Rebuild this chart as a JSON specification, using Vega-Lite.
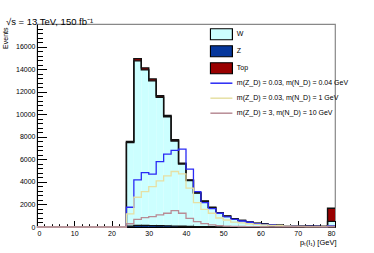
{
  "$schema": "https://vega.github.io/schema/vega-lite/v6.json",
  "width": 298,
  "height": 203,
  "autosize": {"type": "none"},
  "padding": {"left": 37, "top": 24, "right": 39, "bottom": 26},
  "background": "white",
  "config": {
    "font": "Liberation Sans",
    "view": {"stroke": "#888", "strokeWidth": 1.2},
    "axis": {"labelFont": "Liberation Sans", "labelFontSize": 7, "labelColor": "#000", "domainColor": "#000", "tickColor": "#000", "grid": false, "titleFont": "Liberation Sans", "titleFontSize": 7, "titleFontWeight": "normal", "titleColor": "#000", "format": "d"},
    "legend": {"labelFont": "Liberation Sans", "labelFontSize": 7, "labelColor": "#000"}
  },
  "title": {"text": "√s = 13 TeV, 150 fb⁻¹", "anchor": "start", "dx": 5, "offset": -2, "fontSize": 9.5, "fontWeight": "normal", "font": "Liberation Sans", "color": "#000"},
  "datasets": {
    "h": [
      {"lo": 0, "hi": 2, "W": 0, "Z": 0, "Top": 0, "a": 0, "b": 0, "c": 0},
      {"lo": 2, "hi": 4, "W": 0, "Z": 0, "Top": 0, "a": 0, "b": 0, "c": 0},
      {"lo": 4, "hi": 6, "W": 0, "Z": 0, "Top": 0, "a": 0, "b": 0, "c": 0},
      {"lo": 6, "hi": 8, "W": 0, "Z": 0, "Top": 0, "a": 0, "b": 0, "c": 0},
      {"lo": 8, "hi": 10, "W": 0, "Z": 0, "Top": 0, "a": 0, "b": 0, "c": 0},
      {"lo": 10, "hi": 12, "W": 0, "Z": 0, "Top": 0, "a": 0, "b": 0, "c": 0},
      {"lo": 12, "hi": 14, "W": 0, "Z": 0, "Top": 0, "a": 0, "b": 0, "c": 0},
      {"lo": 14, "hi": 16, "W": 0, "Z": 0, "Top": 0, "a": 0, "b": 0, "c": 0},
      {"lo": 16, "hi": 18, "W": 0, "Z": 0, "Top": 0, "a": 0, "b": 0, "c": 0},
      {"lo": 18, "hi": 20, "W": 0, "Z": 0, "Top": 0, "a": 0, "b": 0, "c": 0},
      {"lo": 20, "hi": 22, "W": 0, "Z": 0, "Top": 0, "a": 0, "b": 0, "c": 0},
      {"lo": 22, "hi": 24, "W": 0, "Z": 0, "Top": 0, "a": 0, "b": 0, "c": 0},
      {"lo": 24, "hi": 26, "W": 7400, "Z": 80, "Top": 100, "a": 1750, "b": 1160, "c": 290},
      {"lo": 26, "hi": 28, "W": 14600, "Z": 130, "Top": 200, "a": 4180, "b": 2640, "c": 680},
      {"lo": 28, "hi": 30, "W": 13800, "Z": 130, "Top": 180, "a": 4830, "b": 3140, "c": 830},
      {"lo": 30, "hi": 32, "W": 12840, "Z": 120, "Top": 170, "a": 4680, "b": 3580, "c": 920},
      {"lo": 32, "hi": 34, "W": 11390, "Z": 110, "Top": 140, "a": 5800, "b": 4090, "c": 1070},
      {"lo": 34, "hi": 36, "W": 9670, "Z": 100, "Top": 120, "a": 6460, "b": 4530, "c": 1220},
      {"lo": 36, "hi": 38, "W": 7550, "Z": 80, "Top": 100, "a": 6790, "b": 4920, "c": 1450},
      {"lo": 38, "hi": 40, "W": 5520, "Z": 60, "Top": 80, "a": 6900, "b": 4710, "c": 1220},
      {"lo": 40, "hi": 42, "W": 4070, "Z": 50, "Top": 60, "a": 5130, "b": 3440, "c": 770},
      {"lo": 42, "hi": 44, "W": 2970, "Z": 35, "Top": 45, "a": 3140, "b": 2160, "c": 470},
      {"lo": 44, "hi": 46, "W": 2250, "Z": 25, "Top": 35, "a": 2160, "b": 1570, "c": 300},
      {"lo": 46, "hi": 48, "W": 1700, "Z": 20, "Top": 30, "a": 1630, "b": 1220, "c": 180},
      {"lo": 48, "hi": 50, "W": 1230, "Z": 15, "Top": 25, "a": 1220, "b": 800, "c": 120},
      {"lo": 50, "hi": 52, "W": 950, "Z": 10, "Top": 20, "a": 890, "b": 620, "c": 80},
      {"lo": 52, "hi": 54, "W": 715, "Z": 8, "Top": 17, "a": 680, "b": 440, "c": 60},
      {"lo": 54, "hi": 56, "W": 570, "Z": 6, "Top": 14, "a": 530, "b": 360, "c": 45},
      {"lo": 56, "hi": 58, "W": 425, "Z": 5, "Top": 10, "a": 420, "b": 290, "c": 35},
      {"lo": 58, "hi": 60, "W": 318, "Z": 4, "Top": 8, "a": 300, "b": 230, "c": 25},
      {"lo": 60, "hi": 62, "W": 260, "Z": 3, "Top": 7, "a": 240, "b": 190, "c": 20},
      {"lo": 62, "hi": 64, "W": 202, "Z": 2, "Top": 6, "a": 180, "b": 150, "c": 15},
      {"lo": 64, "hi": 66, "W": 144, "Z": 1, "Top": 5, "a": 120, "b": 110, "c": 12},
      {"lo": 66, "hi": 68, "W": 105, "Z": 1, "Top": 4, "a": 100, "b": 90, "c": 10},
      {"lo": 68, "hi": 70, "W": 85, "Z": 1, "Top": 4, "a": 80, "b": 70, "c": 8},
      {"lo": 70, "hi": 72, "W": 66, "Z": 1, "Top": 3, "a": 60, "b": 50, "c": 6},
      {"lo": 72, "hi": 74, "W": 64, "Z": 1, "Top": 5, "a": 60, "b": 40, "c": 5},
      {"lo": 74, "hi": 76, "W": 55, "Z": 1, "Top": 4, "a": 50, "b": 30, "c": 4},
      {"lo": 76, "hi": 78, "W": 46, "Z": 1, "Top": 3, "a": 40, "b": 30, "c": 3},
      {"lo": 78, "hi": 80, "W": 440, "Z": 60, "Top": 1160, "a": 100, "b": 50, "c": 20},
      {"lo": 80, "hi": 80, "W": 440, "Z": 60, "Top": 1160, "a": 100, "b": 50, "c": 20}
    ]
  },
  "data": {"name": "h"},
  "resolve": {"axis": {"x": "independent", "y": "independent"}},
  "layer": [
    {
      "transform": [
        {"filter": "datum.lo < 80"},
        {"fold": ["W", "Z", "Top"], "as": ["proc", "v"]}
      ],
      "mark": {"type": "bar", "orient": "vertical", "strokeWidth": 0},
      "encoding": {
        "x": {"field": "lo", "type": "quantitative", "scale": {"domain": [0, 80], "nice": false, "zero": false, "padding": 0},
              "axis": {"orient": "bottom", "values": [0, 10, 20, 30, 40, 50, 60, 70, 80], "tickSize": -6.5, "labelPadding": 8.5, "domainWidth": 1, "tickWidth": 1,
                       "title": "pₜ(l₁) [GeV]", "titleX": 299, "titleY": 17, "titleAlign": "right", "titleBaseline": "alphabetic", "titleFontSize": 7.5}},
        "x2": {"field": "hi"},
        "y": {"field": "v", "type": "quantitative", "stack": "zero", "scale": {"domain": [0, 18000], "nice": false, "padding": 0},
              "axis": {"orient": "left", "values": [0, 2000, 4000, 6000, 8000, 10000, 12000, 14000, 16000], "tickSize": -9.5, "labelPadding": 11.5, "domainWidth": 1, "tickWidth": 1,
                       "title": "Events", "titleX": -32, "titleY": 3, "titleAngle": -90, "titleAlign": "right", "titleBaseline": "middle"}},
        "order": {"value": null},
        "fill": {"field": "proc", "type": "nominal",
                 "scale": {"domain": ["W", "Z", "Top"], "range": ["#ccffff", "#06379c", "#990000"]},
                 "legend": {"title": null, "orient": "none", "legendX": 172.4, "legendY": 2, "padding": 0,
                            "symbolType": "M-1,-0.5H1V0.5H-1Z", "symbolSize": 484, "symbolStrokeColor": "#000", "symbolStrokeWidth": 1.2,
                            "symbolOpacity": 1, "clipHeight": 16.5, "rowPadding": 0, "labelOffset": 3.4}}
      }
    },
    {
      "transform": [
        {"fold": ["W", "Z", "Top"], "as": ["proc", "v"]}
      ],
      "mark": {"type": "line", "interpolate": "step-after", "stroke": "#111", "strokeWidth": 1.4},
      "encoding": {
        "x": {"field": "lo", "type": "quantitative",
              "axis": {"orient": "bottom", "values": [2,4,6,8,12,14,16,18,22,24,26,28,32,34,36,38,42,44,46,48,52,54,56,58,62,64,66,68,72,74,76,78], "labels": false, "domain": false, "tickSize": -3.3, "tickWidth": 1, "title": null}},
        "y": {"field": "v", "type": "quantitative", "stack": "zero",
              "axis": {"orient": "left", "values": [400,800,1200,1600,2400,2800,3200,3600,4400,4800,5200,5600,6400,6800,7200,7600,8400,8800,9200,9600,10400,10800,11200,11600,12400,12800,13200,13600,14400,14800,15200,15600,16400,16800,17200,17600], "labels": false, "domain": false, "tickSize": -5.5, "tickWidth": 1, "title": null}},
        "order": {"value": null},
        "detail": {"field": "proc", "type": "nominal"}
      }
    },
    {
      "transform": [
        {"fold": ["a", "b", "c"], "as": ["sig", "v"]}
      ],
      "mark": {"type": "line", "interpolate": "step-after", "strokeWidth": 1.3},
      "encoding": {
        "x": {"field": "lo", "type": "quantitative", "axis": null},
        "y": {"field": "v", "type": "quantitative", "axis": null},
        "stroke": {"field": "sig", "type": "nominal",
                   "scale": {"domain": ["a", "b", "c"], "range": ["#2a2af5", "#e6e0a4", "#b88c95"]},
                   "legend": {"title": null, "orient": "none", "legendX": 172.4, "legendY": 47.2, "padding": 0,
                              "symbolType": "stroke", "symbolSize": 484, "symbolStrokeWidth": 1.5, "rowPadding": -5.7, "labelOffset": 3.4,
                              "labelExpr": "datum.label == 'a' ? 'm(Z_D) = 0.03, m(N_D) = 0.04 GeV' : datum.label == 'b' ? 'm(Z_D) = 0.03, m(N_D) = 1 GeV' : 'm(Z_D) = 3, m(N_D) = 10 GeV'"}}
      }
    }
  ]
}
